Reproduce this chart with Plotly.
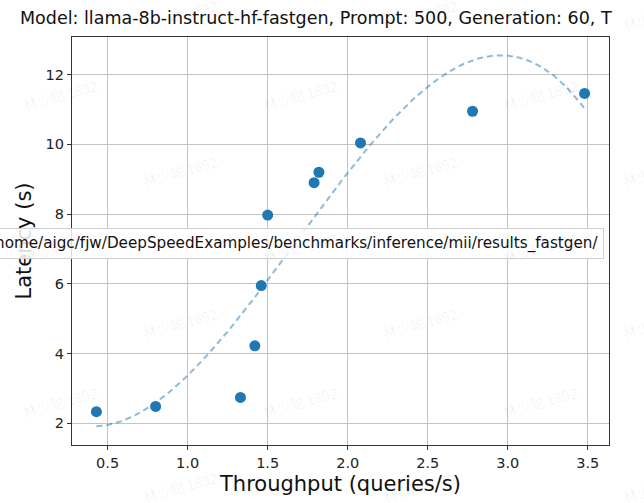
import numpy as np
import plotly.graph_objects as go

throughput = [0.43, 0.80, 1.33, 1.42, 1.46, 1.50, 1.79, 1.82, 2.08, 2.78, 3.48]
latency = [2.33, 2.48, 2.74, 4.22, 5.95, 7.97, 8.90, 9.20, 10.04, 10.95, 11.46]
x_ticks = [0.5, 1.0, 1.5, 2.0, 2.5, 3.0, 3.5]
y_ticks = [2, 4, 6, 8, 10, 12]
title_text = "Model: llama-8b-instruct-hf-fastgen, Prompt: 500, Generation: 60, T"
legend_text = "home/aigc/fjw/DeepSpeedExamples/benchmarks/inference/mii/results_fastgen/"
watermark = "林少聪 1892"

# cubic fit of the measured points (as in the original plot)
coef = np.polyfit(throughput, latency, 3)
fx = np.linspace(min(throughput), max(throughput), 200)
fy = np.polyval(coef, fx)

W, H = 644, 503
L, R, T, B = 72, 35, 37, 55
pw, ph = W - L - R, H - T - B

fig = go.Figure()
fig.add_trace(go.Scatter(x=fx, y=fy, mode="lines",
                         line=dict(color="rgba(31,119,180,0.5)", width=2, dash="6px,4px"),
                         hoverinfo="skip", showlegend=False))
fig.add_trace(go.Scatter(x=throughput, y=latency, mode="markers",
                         marker=dict(color="#1f77b4", size=11, line=dict(width=0)),
                         showlegend=False))

font = "DejaVu Sans, Liberation Sans, sans-serif"
axis_common = dict(showline=True, mirror=True, linecolor="#333333", linewidth=1.2,
                   ticks="outside", ticklen=4, tickcolor="#333333", tickwidth=1,
                   showgrid=True, gridcolor="#c4c4c4", gridwidth=1, zeroline=False,
                   tickfont=dict(family=font, size=14.5, color="#222222"))

fig.update_layout(
    width=W, height=H,
    margin=dict(l=L, r=R, t=T, b=B),
    paper_bgcolor="white", plot_bgcolor="white",
    xaxis=dict(range=[0.2775, 3.6325], tickvals=x_ticks,
               ticktext=[f"{v:.1f}" for v in x_ticks],
               title=dict(text="Throughput (queries/s)", font=dict(family=font, size=21, color="#111111"), standoff=6),
               **axis_common),
    yaxis=dict(range=[1.375, 13.08], tickvals=y_ticks,
               title=dict(text="Latency (s)", font=dict(family=font, size=21, color="#111111"), standoff=8),
               **axis_common),
)

annotations = []
# title (clipped at right edge as in reference)
annotations.append(dict(text=title_text, xref="paper", yref="paper",
                        x=(18 - L) / pw, y=(H - B - 18) / ph, xanchor="left", yanchor="middle",
                        showarrow=False, font=dict(family=font, size=17.5, color="#111111")))
# legend box (overflowing to the left)
annotations.append(dict(text=legend_text, xref="paper", yref="paper",
                        x=(604 - L) / pw, y=(H - B - 245) / ph, xanchor="right", yanchor="middle",
                        showarrow=False, font=dict(family=font, size=15.2, color="#111111"),
                        bgcolor="rgba(255,255,255,0.85)", bordercolor="#d0d0d0", borderwidth=1,
                        borderpad=5))
# watermarks
rows = [15, 95, 172, 250, 325, 405, 490]
for i, yy in enumerate(rows):
    cols = [180, 420, 660] if i % 2 == 0 else [60, 300, 540]
    for xx in cols:
        annotations.append(dict(text=watermark, xref="paper", yref="paper",
                                x=(xx - L) / pw, y=(H - B - yy) / ph,
                                xanchor="center", yanchor="middle", showarrow=False,
                                textangle=-15,
                                font=dict(family="Noto Sans CJK SC, DejaVu Sans, sans-serif",
                                          size=14, color="rgba(0,0,0,0.06)")))
fig.update_layout(annotations=annotations)

fig.write_html("out.html")
